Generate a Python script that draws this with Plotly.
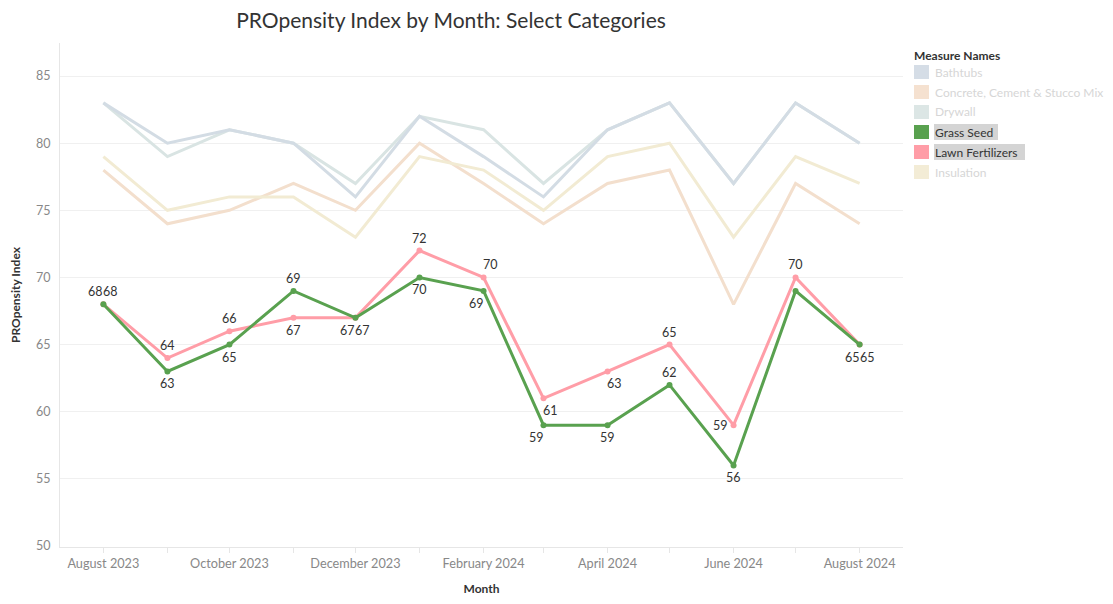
import plotly.graph_objects as go

months = ["2023-08-01", "2023-09-01", "2023-10-01", "2023-11-01", "2023-12-01", "2024-01-01",
          "2024-02-01", "2024-03-01", "2024-04-01", "2024-05-01", "2024-06-01", "2024-07-01", "2024-08-01"]
tick_labels = ["August 2023", "", "October 2023", "", "December 2023", "", "February 2024", "",
               "April 2024", "", "June 2024", "", "August 2024"]

bathtubs = [83, 80, 81, 80, 76, 82, 79, 76, 81, 83, 77, 83, 80]
concrete = [78, 74, 75, 77, 75, 80, 77, 74, 77, 78, 68, 77, 74]
drywall = [83, 79, 81, 80, 77, 82, 81, 77, 81, 83, 77, 83, 80]
insulation = [79, 75, 76, 76, 73, 79, 78, 75, 79, 80, 73, 79, 77]
grass_seed = [68, 63, 65, 69, 67, 70, 69, 59, 59, 62, 56, 69, 65]
lawn_fert = [68, 64, 66, 67, 67, 72, 70, 61, 63, 65, 59, 70, 65]

legend_names = ["Bathtubs", "Concrete, Cement & Stucco Mix", "Drywall", "Grass Seed",
                "Lawn Fertilizers", "Insulation"]

# label placement codes (style only)
grass_pos = ["tl", "b", "b", "t", "bl", "b", "bL", "bL", "b", "t", "b", None, "bl"]
lawn_pos = ["tr", "t", "t", "b", "br", "t", "tR", "bR", "bR", "t", "l", "t", "br"]

FONT = "Lato"
OFF = 8  # page body margin
fig = go.Figure()

for vals, col in [(drywall, "#d9e4e3"), (concrete, "#f3dfcd"), (insulation, "#f2ebd3"), (bathtubs, "#d3dce4")]:
    fig.add_trace(go.Scatter(x=months, y=vals, mode="lines", line=dict(color=col, width=3),
                             showlegend=False, hoverinfo="skip"))

fig.add_trace(go.Scatter(x=months, y=lawn_fert, mode="lines+markers",
                         line=dict(color="#ff9da7", width=3), marker=dict(size=6, color="#ff9da7"),
                         showlegend=False))
fig.add_trace(go.Scatter(x=months, y=grass_seed, mode="lines+markers",
                         line=dict(color="#59a14f", width=3), marker=dict(size=6, color="#59a14f"),
                         showlegend=False))

pos_map = {
    "t": ("center", "bottom", 0, 3),
    "b": ("center", "top", 0, -3),
    "tl": ("right", "bottom", 2, 3),
    "tr": ("left", "bottom", -2, 3),
    "bl": ("right", "top", 2, -3),
    "br": ("left", "top", -2, -3),
    "l": ("right", "middle", -4, 0),
    "tR": ("center", "bottom", 7, 3),
    "bR": ("center", "top", 7, -3),
    "bL": ("center", "top", -7, -3),
}
for vals, poss in [(grass_seed, grass_pos), (lawn_fert, lawn_pos)]:
    for m, v, p in zip(months, vals, poss):
        if p is None:
            continue
        xa, ya, xs, ys = pos_map[p]
        fig.add_annotation(x=m, y=v, text=str(v), showarrow=False, xanchor=xa, yanchor=ya,
                           xshift=xs, yshift=ys, font=dict(family=FONT, size=12.5, color="#333333"))

# figure size (page has an 8px body margin)
W, H = 1113 - OFF, 604 - OFF
L, R, T, B = 60 - OFF, 903 - OFF, 43 - OFF, 547 - OFF


def px(xp):
    return (xp - OFF - L) / (R - L)


def py(yp):
    return (B - (yp - OFF)) / (B - T)


# custom legend
fig.add_annotation(xref="paper", yref="paper", x=px(912), y=py(55), text="<b>Measure Names</b>",
                   showarrow=False, xanchor="left", yanchor="middle",
                   font=dict(family=FONT, size=12, color="#333333"))
sw_cols = ["#d5dde6", "#f5e1d0", "#dce6e5", "#59a14f", "#ff9da7", "#f3ecd6"]
selected = [False, False, False, True, True, False]
hl_width = [0, 0, 0, 64, 91, 0]
for i, (name, col, sel, hw) in enumerate(zip(legend_names, sw_cols, selected, hl_width)):
    cy = 72 + i * 20
    fig.add_shape(type="rect", xref="paper", yref="paper", x0=px(914), x1=px(929), y0=py(cy - 7),
                  y1=py(cy + 7), fillcolor=col, line=dict(width=0))
    if sel:
        fig.add_shape(type="rect", xref="paper", yref="paper", x0=px(934), x1=px(934 + hw),
                      y0=py(cy - 8), y1=py(cy + 8), fillcolor="#d4d4d4", line=dict(width=0), layer="below")
    fig.add_annotation(xref="paper", yref="paper", x=px(933), y=py(cy), text=name, showarrow=False,
                       xanchor="left", yanchor="middle",
                       font=dict(family=FONT, size=12, color="#333333" if sel else "#d6d6d6"))

fig.update_layout(
    width=W, height=H,
    margin=dict(l=L, r=W - R, t=T, b=H - B),
    plot_bgcolor="white", paper_bgcolor="white",
    title=dict(text="PROpensity Index by Month: Select Categories", x=(451 - OFF) / W, xanchor="center",
               y=1 - (21 - OFF) / H, yanchor="middle", font=dict(family=FONT, size=21, color="#333333")),
    font=dict(family=FONT, color="#333333"),
    xaxis=dict(
        type="date", range=["2023-07-11", "2024-08-22"], automargin=False,
        tickvals=months, ticktext=tick_labels, ticks="outside", ticklen=5, tickcolor="#e6e6e6",
        showgrid=False, showline=True, linecolor="#e6e6e6", zeroline=False,
        tickfont=dict(family=FONT, size=12.7, color="#888888"),
        title=dict(text="<b>Month</b>", font=dict(family=FONT, size=12, color="#333333"), standoff=14),
    ),
    yaxis=dict(
        range=[49.93, 87.46], tickvals=[50, 55, 60, 65, 70, 75, 80, 85], showgrid=True, automargin=False,
        gridcolor="#f0f0f0", zeroline=False, showline=True, linecolor="#e6e6e6",
        tickfont=dict(family=FONT, size=12.5, color="#888888"), ticks="", ticklabelstandoff=6,
        title=dict(text="<b>PROpensity Index</b>", font=dict(family=FONT, size=12, color="#333333"),
                   standoff=15),
    ),
)

fig.write_html("out.html")
